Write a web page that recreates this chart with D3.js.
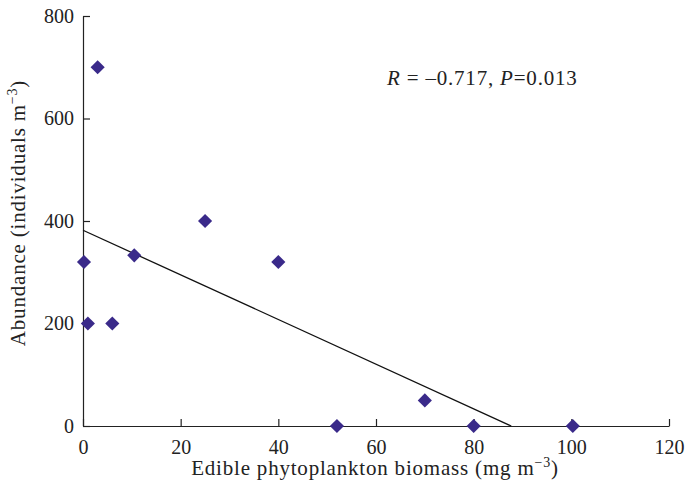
<!DOCTYPE html>
<html>
<head>
<meta charset="utf-8">
<script src="https://cdn.jsdelivr.net/npm/d3@7"></script>
<style>
  body { margin: 0; background: #fff; }
  svg text { font-family: "Liberation Serif", "DejaVu Serif", serif; fill: #222; }
</style>
</head>
<body>
<svg id="chart" width="686" height="486"></svg>
<script>
// values
const biomass = [3, 0.2, 1, 6, 10.5, 25, 40, 52, 70, 80, 100.3];
const abundance = [700, 320, 200, 200, 333, 400, 320, 0, 50, 0, 0];
const xTicks = [0, 20, 40, 60, 80, 100, 120];
const yTicks = [0, 200, 400, 600, 800];
// fitted line: abundance = intercept + slope * biomass, drawn down to zero
const fitIntercept = 382;
const fitSlope = -4.356;

const svg = d3.select('#chart');
const margin = { top: 16, right: 17, bottom: 60, left: 83 };
const width = 686 - margin.left - margin.right;
const height = 486 - margin.top - margin.bottom;

const g = svg.append('g')
    .attr('transform', `translate(${margin.left},${margin.top})`);

const x = d3.scaleLinear().domain([0, 120]).range([0, width]);
const y = d3.scaleLinear().domain([0, 800]).range([height, 0]);

// x axis, ticks pointing inward
const xAxis = g.append('g')
    .attr('transform', `translate(0,${height})`)
    .call(d3.axisBottom(x).tickValues(xTicks).tickSize(-7).tickSizeOuter(0).tickPadding(14));
xAxis.select('.domain').attr('stroke', '#222').attr('stroke-width', 1.2);
xAxis.selectAll('.tick line').attr('stroke', '#222').attr('stroke-width', 1.2);
xAxis.selectAll('text').attr('font-size', 20).style('fill', '#222');

// y axis
const yAxis = g.append('g')
    .call(d3.axisLeft(y).tickValues(yTicks).tickSize(-7).tickSizeOuter(0).tickPadding(9));
yAxis.select('.domain').attr('stroke', '#222').attr('stroke-width', 1.2);
yAxis.selectAll('.tick line').attr('stroke', '#222').attr('stroke-width', 1.2);
yAxis.selectAll('text').attr('font-size', 20).style('fill', '#222');

// regression line
const xEnd = -fitIntercept / fitSlope;
g.append('line')
    .attr('x1', x(0)).attr('y1', y(fitIntercept))
    .attr('x2', x(xEnd)).attr('y2', y(0))
    .attr('stroke', '#111').attr('stroke-width', 1.3);

// diamonds
const diamond = d3.symbol().type(d3.symbolSquare).size(100);
g.selectAll('.pt')
    .data(biomass.map((b, i) => [b, abundance[i]]))
    .join('path')
    .attr('class', 'pt')
    .attr('d', diamond)
    .attr('transform', d => `translate(${x(d[0])},${y(d[1])}) rotate(45)`)
    .attr('fill', '#3a2a8a');

// axis titles
const xTitle = svg.append('text')
    .attr('x', 375)
    .attr('y', 475)
    .attr('text-anchor', 'middle')
    .attr('font-size', 21)
    .attr('letter-spacing', 0.8);
xTitle.append('tspan').text('Edible phytoplankton biomass (mg m');
xTitle.append('tspan').attr('font-size', 14).attr('dy', -8).text('\u22123');
xTitle.append('tspan').attr('dy', 8).text(')');

const yTitle = svg.append('text')
    .attr('transform', 'translate(25,213) rotate(-90)')
    .attr('text-anchor', 'middle')
    .attr('font-size', 21)
    .attr('letter-spacing', 0.8);
yTitle.append('tspan').text('Abundance (individuals m');
yTitle.append('tspan').attr('font-size', 14).attr('dy', -8).text('\u22123');
yTitle.append('tspan').attr('dy', 8).text(')');

// annotation
const note = svg.append('text')
    .attr('x', 387)
    .attr('y', 85)
    .attr('font-size', 21)
    .attr('letter-spacing', 0.8);
note.append('tspan').attr('font-style', 'italic').text('R');
note.append('tspan').text(' = \u20130.717, ');
note.append('tspan').attr('font-style', 'italic').text('P');
note.append('tspan').text('=0.013');
</script>
</body>
</html>
